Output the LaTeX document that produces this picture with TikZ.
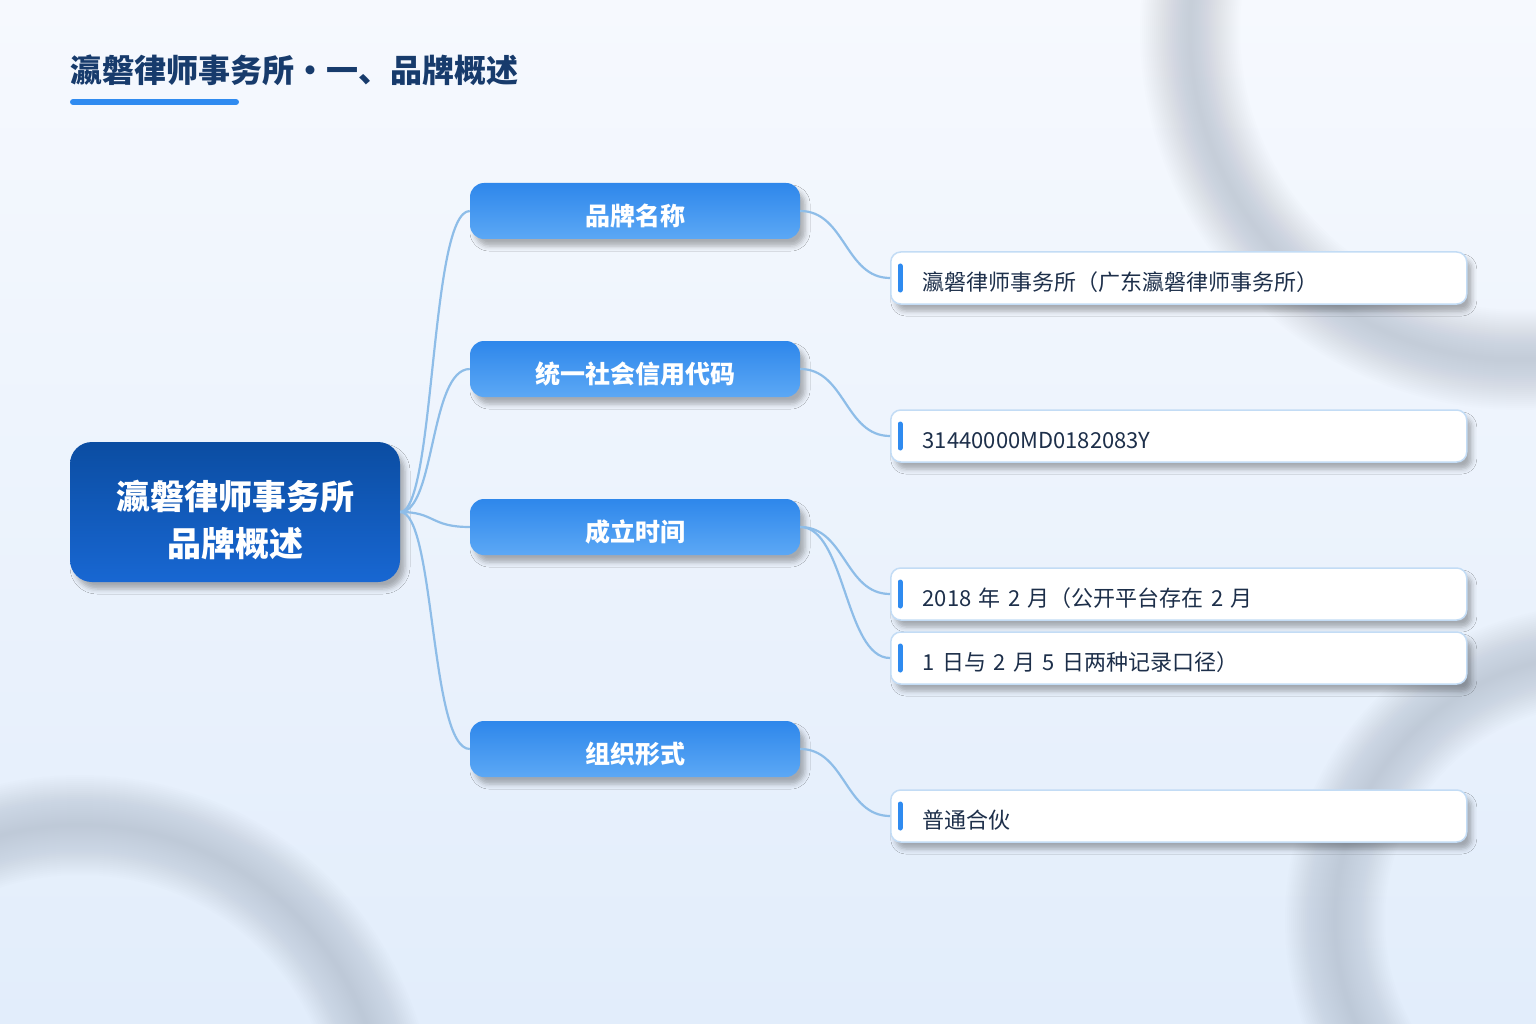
\documentclass[tikz,border=0pt]{standalone}
\usepackage{fontspec}
\setmainfont{Noto Sans CJK SC}
\usepackage{tikz}
\usetikzlibrary{shadows.blur, positioning, calc}

\definecolor{bgtop}{HTML}{F6F9FE}
\definecolor{bgbot}{HTML}{E2EDFB}
\definecolor{ringgray}{HTML}{98A4B4}
\definecolor{titlenavy}{HTML}{173B6C}
\definecolor{accentblue}{HTML}{2F8BF0}
\definecolor{rootdark}{HTML}{0B4DA2}
\definecolor{rootlight}{HTML}{1867D2}
\definecolor{branchtop}{HTML}{2E87EB}
\definecolor{branchbot}{HTML}{5CA8F5}
\definecolor{leafline}{HTML}{C3DCF5}
\definecolor{leaftext}{HTML}{1D2F4A}
\definecolor{linkblue}{HTML}{8EBDE8}

\begin{document}
\begin{tikzpicture}[
    x=1pt, y=-1pt,
    softshadow/.style={blur shadow={shadow xshift=5pt, shadow yshift=-7pt, shadow blur radius=5pt, shadow opacity=30}},
    rootbox/.style={softshadow, rounded corners=22pt, top color=rootdark, bottom color=rootlight,
      minimum width=330pt, minimum height=140pt, align=center, text=white,
      text height=88pt, text depth=0pt,
      font=\fontsize{34}{47}\selectfont\bfseries},
    branchbox/.style={softshadow, rounded corners=14pt, top color=branchtop, bottom color=branchbot,
      minimum width=330pt, minimum height=56pt, text=white, text height=30pt, text depth=1pt,
      font=\fontsize{25}{30}\selectfont\bfseries},
    leafbox/.style={softshadow, draw=leafline, line width=1.5pt, fill=white, rounded corners=10pt,
      minimum height=52pt, text width=512pt, inner xsep=32pt, align=left, anchor=west,
      text height=26pt, text depth=1pt,
      text=leaftext, font=\fontsize{22}{26}\selectfont},
    link/.style={draw=linkblue, line width=2.2pt},
    bar/.style={draw=accentblue, line width=5pt, line cap=round},
    ring/.style={draw=ringgray, line width=#1},
  ]
  \useasboundingbox (0,0) rectangle (1536,1024);
  \fill[top color=bgtop, bottom color=bgbot] (0,0) rectangle (1536,1024);

  % soft rings in the background
  \begin{scope}
    \clip (0,0) rectangle (1536,1024);
    \foreach \w in {4,8,...,100} {
      \draw[ring=\w pt, opacity=0.018] (1520,30) circle[radius=330pt];
      \draw[ring=\w pt, opacity=0.018] (80,1130) circle[radius=305pt];
      \draw[ring=\w pt, opacity=0.018] (1600,920) circle[radius=265pt];
    }
  \end{scope}

  % title
  \node[anchor=west, inner sep=0pt, text=titlenavy, font=\fontsize{32}{36}\selectfont\bfseries]
    (title) at (70,70) {瀛磐律师事务所・一、品牌概述};
  \draw[line width=6pt, line cap=round, accentblue] (73,102) -- (236,102);

  % map
  \node[rootbox] (root) at (235,512) {瀛磐律师事务所\\品牌概述};

  \node[branchbox] (b1) at (635,211) {品牌名称};
  \node[branchbox] (b2) at (635,369) {统一社会信用代码};
  \node[branchbox] (b3) at (635,527) {成立时间};
  \node[branchbox] (b4) at (635,749) {组织形式};

  \node[leafbox] (l1) at (890,278) {瀛磐律师事务所（广东瀛磐律师事务所）};
  \node[leafbox] (l2) at (890,436) {31440000MD0182083Y};
  \node[leafbox] (l3) at (890,594) {2018 年 2 月（公开平台存在 2 月};
  \node[leafbox] (l4) at (890,658) {1 日与 2 月 5 日两种记录口径）};
  \node[leafbox] (l5) at (890,816) {普通合伙};

  \foreach \l in {l1,l2,l3,l4,l5}
    \draw[bar] ([xshift=10pt,yshift=12pt]\l.west) -- ([xshift=10pt,yshift=-12pt]\l.west);

  \foreach \b in {b1,b2,b3,b4}
    \draw[link] (root.east) .. controls +(35,0) and +(-40,0) .. (\b.west);
  \foreach \b/\l in {b1/l1,b2/l2,b3/l3,b3/l4,b4/l5}
    \draw[link] (\b.east) .. controls +(45,0) and +(-45,0) .. (\l.west);
\end{tikzpicture}
\end{document}
